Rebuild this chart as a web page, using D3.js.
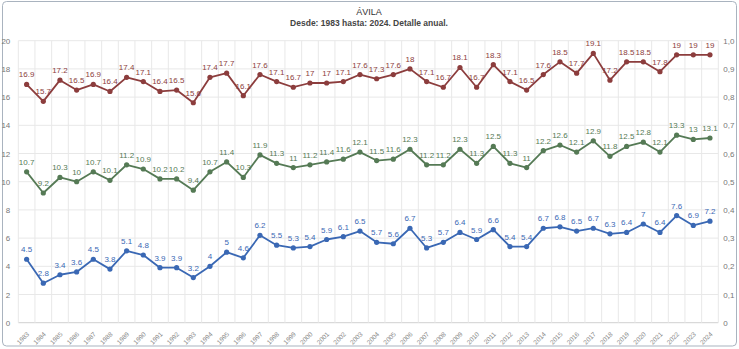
<!DOCTYPE html>
<html><head><meta charset="utf-8">
<script src="https://cdn.jsdelivr.net/npm/d3@7"></script>
<style>body{margin:0;background:#fff;font-family:"Liberation Sans",Arial,sans-serif;}</style>
</head><body><svg id="c" width="739" height="349"></svg>
<script>
const years = d3.range(1983, 2025).map(String);
const maxVals = [16.9,15.7,17.2,16.5,16.9,16.4,17.4,17.1,16.4,16.5,15.6,17.4,17.7,16.1,17.6,17.1,16.7,17,17,17.1,17.6,17.3,17.6,18,17.1,16.7,18.1,16.7,18.3,17.1,16.5,17.6,18.5,17.7,19.1,17.2,18.5,18.5,17.8,19,19,19];
const meanVals = [10.7,9.2,10.3,10,10.7,10.1,11.2,10.9,10.2,10.2,9.4,10.7,11.4,10.3,11.9,11.3,11,11.2,11.4,11.6,12.1,11.5,11.6,12.3,11.2,11.2,12.3,11.3,12.5,11.3,11,12.2,12.6,12.1,12.9,11.8,12.5,12.8,12.1,13.3,13,13.1];
const minVals = [4.5,2.8,3.4,3.6,4.5,3.8,5.1,4.8,3.9,3.9,3.2,4,5,4.6,6.2,5.5,5.3,5.4,5.9,6.1,6.5,5.7,5.6,6.7,5.3,5.7,6.4,5.9,6.6,5.4,5.4,6.7,6.8,6.5,6.7,6.3,6.4,7,6.4,7.6,6.9,7.2];
const leftTicks = [0,2,4,6,8,10,12,14,16,18,20];
const rightTicks = [0,0.1,0.2,0.3,0.4,0.5,0.6,0.7,0.8,0.9,1.0];
const title = "ÁVILA";
const subtitle = "Desde: 1983 hasta: 2024. Detalle anual.";
const series = [
  {values: maxVals, color: "#8c3d3d"},
  {values: meanVals, color: "#557a55"},
  {values: minVals, color: "#3a68b4"}
];

const svg = d3.select("#c");
const L = 18.3, R = 718.3, T = 40.7, B = 322.7;
svg.append("rect").attr("x",2.5).attr("y",1.5).attr("width",734).attr("height",344.5)
  .attr("rx",4).attr("fill","#fff").attr("stroke","#a9b3bf").attr("stroke-width",1);

const x = d3.scaleBand().domain(years).range([L,R]).padding(0);
const y = d3.scaleLinear().domain([0,20]).range([B,T]);
const y2 = d3.scaleLinear().domain([0,1]).range([B,T]);

const g = svg.append("g");
g.selectAll(".hg").data(leftTicks).join("line")
  .attr("x1",L).attr("x2",R).attr("y1",d=>y(d)).attr("y2",d=>y(d))
  .attr("stroke",d=>d===0?"#d0d0d0":"#e8e8e8").attr("stroke-width",1);
const bounds = years.map(d=>x(d)).concat([R]);
g.selectAll(".vg").data(bounds).join("line")
  .attr("x1",d=>d).attr("x2",d=>d).attr("y1",T).attr("y2",B)
  .attr("stroke","#e8e8e8").attr("stroke-width",1);

const la = svg.append("g").attr("transform",`translate(${L},0)`)
  .call(d3.axisLeft(y).tickValues(leftTicks).tickSize(0).tickPadding(8).tickFormat(d3.format("d")));
la.select(".domain").remove();
la.selectAll("text").attr("fill","#777").attr("font-size","8px").attr("font-family","Liberation Sans, Arial, sans-serif");

const ra = svg.append("g").attr("transform",`translate(${R},0)`)
  .call(d3.axisRight(y2).tickValues(rightTicks).tickSize(0).tickPadding(5)
    .tickFormat(d=>d===0?"0":d3.format(".1f")(d).replace(".",",")));
ra.select(".domain").remove();
ra.selectAll("text").attr("fill","#777").attr("font-size","8px").attr("font-family","Liberation Sans, Arial, sans-serif");

const xa = svg.append("g").attr("transform",`translate(0,${B})`)
  .call(d3.axisBottom(x).tickSize(0).tickPadding(0));
xa.select(".domain").remove();
xa.selectAll("text").attr("fill","#888").attr("font-size","6.5px")
  .attr("font-family","Liberation Sans, Arial, sans-serif")
  .attr("text-anchor","end").attr("dy",0)
  .attr("transform","translate(3,12) rotate(-45)");

const cx = d => x(d) + x.bandwidth()/2;
const line = d3.line().x((d,i)=>cx(years[i])).y(d=>y(d));
series.forEach(s=>{
  svg.append("path").datum(s.values).attr("d",line)
    .attr("fill","none").attr("stroke",s.color).attr("stroke-width",1.8).attr("stroke-linejoin","round");
  svg.append("g").selectAll("circle").data(s.values).join("circle")
    .attr("cx",(d,i)=>cx(years[i])).attr("cy",d=>y(d)).attr("r",2.6).attr("fill",s.color);
  svg.append("g").selectAll("text").data(s.values).join("text")
    .attr("x",(d,i)=>cx(years[i])).attr("y",d=>y(d)-7)
    .attr("text-anchor","middle").attr("font-size","8px")
    .attr("font-family","Liberation Sans, Arial, sans-serif")
    .attr("fill",s.color).text(d=>String(d));
});

svg.append("text").attr("x",369).attr("y",15).attr("text-anchor","middle")
  .attr("font-size","9px").attr("fill","#333").text(title);
svg.append("text").attr("x",369).attr("y",26).attr("text-anchor","middle")
  .attr("font-size","8.5px").attr("font-weight","bold").attr("fill","#444").text(subtitle);
</script></body></html>
